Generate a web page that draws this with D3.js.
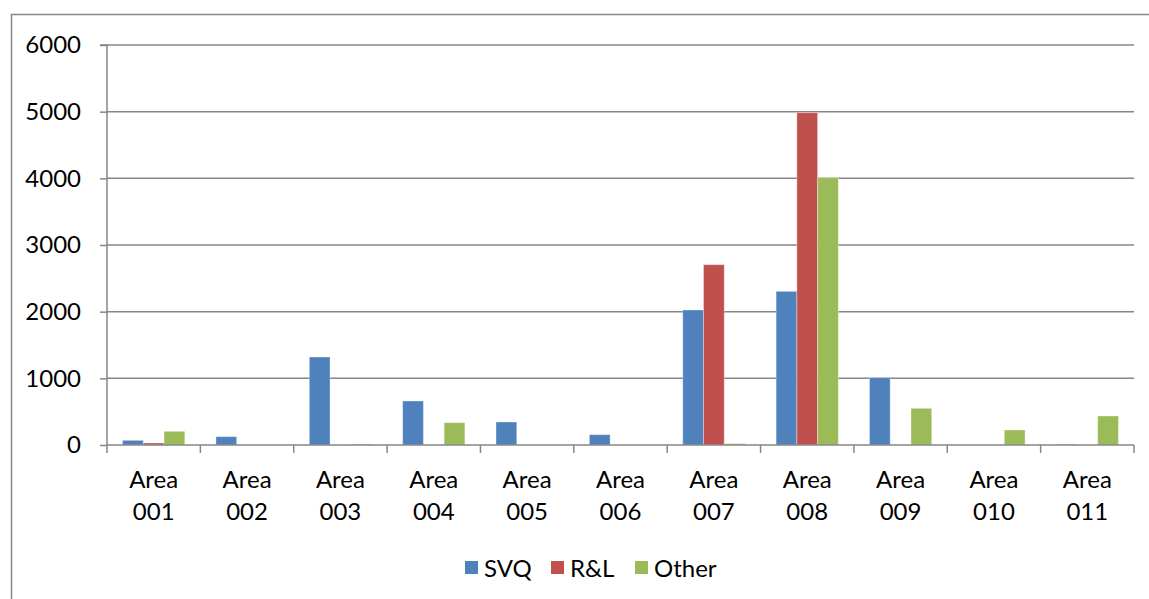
<!DOCTYPE html>
<html>
<head>
<meta charset="utf-8">
<script src="https://cdn.jsdelivr.net/npm/d3@7/dist/d3.min.js"></script>
<style>
html,body{margin:0;padding:0;background:#fff;}
svg{display:block;}
text{font-family:Lato,"Open Sans",sans-serif;fill:#000;}
</style>
</head>
<body>
<svg id="chart" width="1149" height="599"></svg>
<script>
const categories = ["Area 001","Area 002","Area 003","Area 004","Area 005","Area 006","Area 007","Area 008","Area 009","Area 010","Area 011"];
const seriesNames = ["SVQ","R&L","Other"];
const svq   = [70, 125, 1320, 660, 345, 155, 2025, 2305, 1010, 0, 8];
const rl    = [30, 0, 0, 0, 0, 0, 2705, 4985, 0, 0, 0];
const other = [205, 0, 12, 335, 0, 0, 20, 4010, 550, 225, 435];
const yTicks = [0,1000,2000,3000,4000,5000,6000];
const colors = ["#4F81BD","#C0504D","#9BBB59"];

const series = [svq, rl, other];
const svg = d3.select("#chart");
const FS = 24;

// outer chart border
svg.append("rect").attr("x",11.5).attr("y",14.5).attr("width",1160).attr("height",600)
  .attr("fill","none").attr("stroke","#868686").attr("stroke-width",1.5);

const pL = 107, pR = 1134, pT = 45, pB = 445;
const x = d3.scaleBand().domain(categories).range([pL,pR]).paddingInner(0).paddingOuter(0);
const bw = x.bandwidth()/4.5;
const y = d3.scaleLinear().domain([0,6000]).range([pB,pT]);

// gridlines
svg.append("g").selectAll("line").data(yTicks.filter(d=>d>0)).join("line")
  .attr("x1",pL).attr("x2",pR).attr("y1",d=>y(d)).attr("y2",d=>y(d))
  .attr("stroke","#868686").attr("stroke-width",1.5);

// y axis
const yAxis = d3.axisLeft(y).tickValues(yTicks).tickSize(7).tickPadding(19).tickFormat(d3.format("d"));
const gy = svg.append("g").attr("transform",`translate(${pL},0)`).call(yAxis);
gy.select(".domain").attr("stroke","#868686").attr("stroke-width",1.5).attr("d",`M-7,${pT}H0V${pB}`);
gy.selectAll(".tick line").attr("stroke","#868686").attr("stroke-width",1.5);
gy.selectAll(".tick text").attr("font-size",FS).attr("font-family","Lato,'Open Sans',sans-serif").attr("fill","#000");

// bars
seriesNames.forEach((name,si)=>{
  svg.append("g").selectAll("rect").data(categories).join("rect")
    .attr("x",c=>x(c)+bw*0.75+si*bw)
    .attr("y",(c,i)=>y(series[si][i]))
    .attr("width",bw)
    .attr("height",(c,i)=>y(0)-y(series[si][i]))
    .attr("fill",colors[si])
    .attr("stroke","rgba(255,255,255,0.35)").attr("stroke-width",1);
});

// x axis
const xAxis = d3.axisBottom(x).tickSize(0).tickFormat("");
const gx = svg.append("g").attr("transform",`translate(0,${pB})`).call(xAxis);
gx.select(".domain").attr("stroke","#868686").attr("stroke-width",1.5).attr("d",`M${pL},0H${pR}`);
// category boundary ticks
const bounds = categories.map(c=>x(c)).concat([pR]);
gx.selectAll(".btick").data(bounds).join("line").attr("class","btick")
  .attr("x1",d=>d).attr("x2",d=>d).attr("y1",0).attr("y2",8)
  .attr("stroke","#868686").attr("stroke-width",1.5);
// category labels (two lines)
const lbl = svg.append("g").selectAll("text").data(categories).join("text")
  .attr("x",c=>x(c)+x.bandwidth()/2).attr("y",488)
  .attr("text-anchor","middle").attr("font-size",FS);
lbl.append("tspan").attr("x",c=>x(c)+x.bandwidth()/2).attr("dy",0).text(c=>c.split(" ")[0]);
lbl.append("tspan").attr("x",c=>x(c)+x.bandwidth()/2).attr("dy",32).text(c=>c.split(" ")[1]);

// legend
const legX = [465, 551, 635];
const leg = svg.append("g").selectAll("g").data(seriesNames).join("g")
  .attr("transform",(d,i)=>`translate(${legX[i]},0)`);
leg.append("rect").attr("x",0).attr("y",561).attr("width",13).attr("height",13).attr("fill",(d,i)=>colors[i]);
leg.append("text").attr("x",19).attr("y",577).attr("font-size",FS).text(d=>d);
</script>
</body>
</html>
